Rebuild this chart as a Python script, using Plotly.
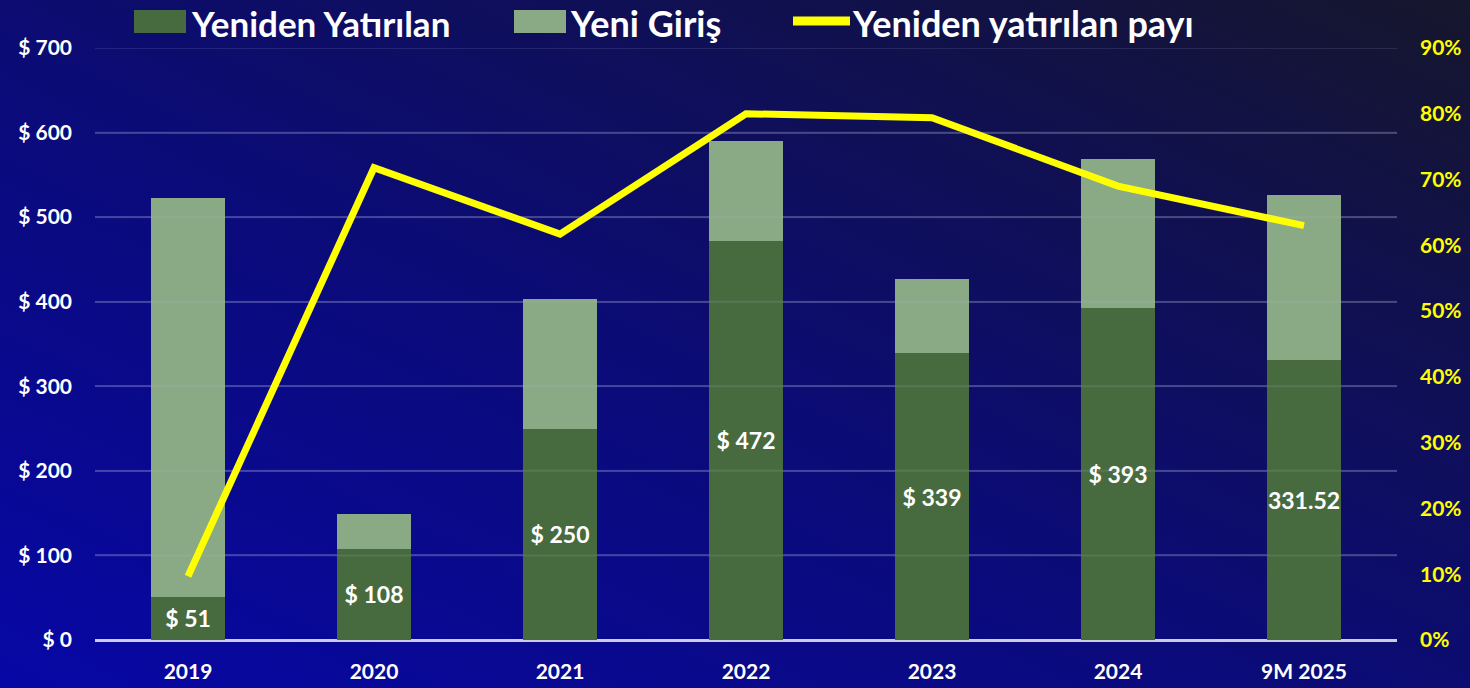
import base64
import plotly.graph_objects as go

# ---- data ----
categories = ["2019", "2020", "2021", "2022", "2023", "2024", "9M 2025"]
reinvested = [51, 108, 250, 472, 339, 393, 331.52]
new_inflow = [472, 41, 153, 118, 88, 176, 195]
reinvested_share = [0.097, 0.718, 0.617, 0.80, 0.794, 0.69, 0.63]
reinvested_labels = ["$ 51", "$ 108", "$ 250", "$ 472", "$ 339", "$ 393", "331.52"]
left_ticks = [0, 100, 200, 300, 400, 500, 600, 700]
right_ticks = [0, 0.1, 0.2, 0.3, 0.4, 0.5, 0.6, 0.7, 0.8, 0.9]

names = ["Yeniden Yatırılan", "Yeni Giriş", "Yeniden yatırılan payı"]
DARK_GREEN = "#476b3f"
LIGHT_GREEN = "#8aa985"
YELLOW = "#ffff00"
GRID = "rgba(200,200,235,0.22)"
GRID_OVER = "rgba(200,200,235,0.12)"
FONT = "Lato"

W, H = 1470, 688
ML, MR, MT, MB = 95, 73, 48, 48
PW, PH = W - ML - MR, H - MT - MB

fig = go.Figure()
fig.add_trace(go.Bar(
    x=categories, y=reinvested, name=names[0], marker=dict(color=DARK_GREEN, line=dict(width=0)),
    text=reinvested_labels, textposition="inside", insidetextanchor="middle", textangle=0,
    textfont=dict(family=FONT, size=23, color="white", weight="bold"),
    constraintext="none", showlegend=False, hoverinfo="x+y",
))
fig.add_trace(go.Bar(
    x=categories, y=new_inflow, name=names[1], marker=dict(color=LIGHT_GREEN, line=dict(width=0)),
    showlegend=False, hoverinfo="x+y",
))
fig.add_trace(go.Scatter(
    x=categories, y=reinvested_share, name=names[2], yaxis="y2", mode="lines",
    line=dict(color=YELLOW, width=7), showlegend=False,
))

# background gradient as an inline SVG image
svg = f'''<svg xmlns="http://www.w3.org/2000/svg" width="{W}" height="{H}" viewBox="0 0 {W} {H}" preserveAspectRatio="none">
<defs><linearGradient id="g" x1="0" y1="1" x2="1" y2="0">
<stop offset="0" stop-color="#0707a6"/><stop offset="0.45" stop-color="#0b0b78"/>
<stop offset="0.75" stop-color="#101050"/><stop offset="1" stop-color="#16162c"/>
</linearGradient></defs><rect width="{W}" height="{H}" fill="url(#g)"/></svg>'''
src = "data:image/svg+xml;base64," + base64.b64encode(svg.encode()).decode()


def px(xp):
    return (xp - ML) / PW


def py(yp):
    return 1 + (MT - yp) / PH


# faint grid lines drawn above the bars (they show through the bars in the reference)
shapes = [
    dict(type="line", xref="paper", yref="y", x0=0, x1=1, y0=v, y1=v, layer="above",
         line=dict(color=GRID_OVER, width=2))
    for v in left_ticks[1:]
]
shapes += [
    dict(type="rect", xref="paper", yref="paper", x0=px(134), x1=px(186), y0=py(33), y1=py(10),
         fillcolor=DARK_GREEN, line=dict(width=0)),
    dict(type="rect", xref="paper", yref="paper", x0=px(514), x1=px(566), y0=py(33), y1=py(10),
         fillcolor=LIGHT_GREEN, line=dict(width=0)),
    dict(type="line", xref="paper", yref="paper", x0=px(793), x1=px(850), y0=py(21), y1=py(21),
         line=dict(color=YELLOW, width=9)),
]
legend_x = [189, 568, 850]
legend_sizes = [35, 36, 36]
annotations = [
    dict(xref="paper", yref="paper", x=px(xx), y=py(23), xanchor="left", yanchor="middle",
         text=f"<b>{t}</b>", showarrow=False, font=dict(family=FONT, size=s, color="white"))
    for xx, t, s in zip(legend_x, names, legend_sizes)
]

fig.update_layout(
    width=W, height=H,
    margin=dict(l=ML, r=MR, t=MT, b=MB, pad=0, autoexpand=False),
    barmode="stack", bargap=0.6,
    paper_bgcolor="#0b0b78", plot_bgcolor="rgba(0,0,0,0)",
    images=[dict(source=src, xref="paper", yref="paper", x=-ML / PW, y=1 + MT / PH,
                 sizex=W / PW, sizey=H / PH, sizing="stretch", layer="below", xanchor="left", yanchor="top")],
    shapes=shapes, annotations=annotations,
    showlegend=False,
    font=dict(family=FONT, color="white"),
    xaxis=dict(showgrid=False, showline=False, ticks="", zeroline=False, automargin=False,
               tickfont=dict(family=FONT, size=21, color="white", weight="bold"),
               ticklabelstandoff=17),
    yaxis=dict(range=[0, 700], tickvals=left_ticks, ticktext=[f"$ {v}" for v in left_ticks],
               showgrid=True, gridcolor=GRID, gridwidth=2, automargin=False,
               zeroline=True, zerolinecolor="rgba(225,225,235,0.9)", zerolinewidth=3,
               showline=False, ticks="",
               tickfont=dict(family=FONT, size=21, color="white", weight="bold"),
               ticklabelstandoff=22),
    yaxis2=dict(range=[0, 0.9], tickvals=right_ticks, tickformat=".0%", overlaying="y", side="right",
                showgrid=False, zeroline=False, showline=False, ticks="", automargin=False,
                tickfont=dict(family=FONT, size=21, color=YELLOW, weight="bold"),
                ticklabelstandoff=22),
)

fig.write_html(
    "out.html",
    config={"displayModeBar": False},
    post_script="document.body.style.margin='0';document.body.style.background='#0b0b78';"
                "document.body.style.overflow='hidden';",
)
